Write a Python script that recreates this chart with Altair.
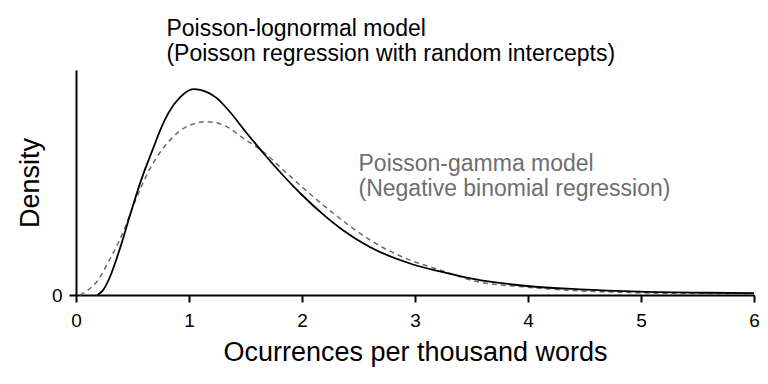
import altair as alt
import pandas as pd

# Poisson-lognormal (solid) density curve
logn_x = [0.19, 0.24, 0.30, 0.39, 0.48, 0.575, 0.684, 0.75, 0.817, 0.92, 1.04, 1.10,
          1.245, 1.363, 1.51, 1.688, 1.805, 1.982, 2.218, 2.366, 2.60, 2.956, 3.22,
          3.516, 3.99, 4.46, 4.99, 5.58, 6.0]
logn_y = [0.0, 0.013, 0.048, 0.125, 0.215, 0.305, 0.392, 0.443, 0.485, 0.527, 0.549, 0.547,
          0.525, 0.488, 0.432, 0.368, 0.328, 0.272, 0.207, 0.172, 0.128, 0.084, 0.063,
          0.043, 0.024, 0.015, 0.009, 0.006, 0.005]

# Poisson-gamma (dashed) density curve
gam_x = [0.035, 0.11, 0.2, 0.24, 0.286, 0.375, 0.434, 0.49, 0.58, 0.655, 0.743, 0.832,
         0.98, 1.157, 1.26, 1.333, 1.48, 1.658, 1.864, 2.1, 2.277, 2.60, 2.956, 3.22,
         3.516, 3.99, 4.46, 4.99, 5.5, 6.0]
gam_y = [0.0, 0.014, 0.042, 0.062, 0.088, 0.140, 0.180, 0.225, 0.290, 0.337, 0.380, 0.413,
         0.449, 0.462, 0.458, 0.449, 0.418, 0.382, 0.325, 0.262, 0.218, 0.147, 0.093, 0.067,
         0.038, 0.021, 0.011, 0.006, 0.0035, 0.002]

# Annotations (two lines each)
ann_text = ["Poisson-lognormal model\n(Poisson regression with random intercepts)",
            "Poisson-gamma model\n(Negative binomial regression)"]
ann_x = [0.8, 2.5]
ann_y = [0.691, 0.332]
ann_group = ["logn", "gamma"]

x_ticks = [0, 1, 2, 3, 4, 5, 6]

FONT = "Liberation Sans"

df_logn = pd.DataFrame({"x": logn_x, "y": logn_y})
df_gam = pd.DataFrame({"x": gam_x, "y": gam_y})
df_ann = pd.DataFrame({"x": ann_x, "y": ann_y, "text": ann_text, "g": ann_group})

xscale = alt.Scale(domain=[0, 6], nice=False, zero=False)
yscale = alt.Scale(domain=[0, 0.6], nice=False)

xaxis = alt.Axis(values=x_ticks, title="Ocurrences per thousand words", grid=False,
                 domainColor="black", domainWidth=2, tickColor="black", tickWidth=2,
                 tickSize=7, labelFontSize=19, labelFont=FONT, labelColor="black",
                 labelPadding=9, labelFlush=False, titleFont=FONT, titleFontSize=27,
                 titleFontWeight="normal", titleColor="black", titleBaseline="alphabetic",
                 titleY=65, titleX=339, titleAlign="center", format="d")
yaxis = alt.Axis(values=[0], title="Density", grid=False, domainColor="black", domainWidth=2,
                 tickColor="black", tickWidth=2, tickSize=7, labelFontSize=19, labelFont=FONT,
                 labelColor="black", labelPadding=7, titleFont=FONT, titleFontSize=27,
                 titleFontWeight="normal", titleColor="black", titleAngle=270,
                 titleBaseline="alphabetic", titleAlign="center", titleX=-38, titleY=112.5,
                 format="d")

gam_line = alt.Chart(df_gam).mark_line(color="#6a6a6a", strokeWidth=1.5, strokeDash=[5, 4],
                                       interpolate="monotone").encode(
    x=alt.X("x:Q", scale=xscale, axis=xaxis),
    y=alt.Y("y:Q", scale=yscale, axis=yaxis),
)
logn_line = alt.Chart(df_logn).mark_line(color="black", strokeWidth=1.8,
                                         interpolate="monotone").encode(
    x=alt.X("x:Q", scale=xscale),
    y=alt.Y("y:Q", scale=yscale),
)
labels = alt.Chart(df_ann).mark_text(align="left", baseline="alphabetic", font=FONT,
                                     fontSize=23, lineBreak="\n", lineHeight=25,
                                     clip=False).encode(
    x=alt.X("x:Q", scale=xscale),
    y=alt.Y("y:Q", scale=yscale),
    text="text:N",
    color=alt.Color("g:N", scale=alt.Scale(domain=["logn", "gamma"],
                                           range=["black", "#6e6e6e"]), legend=None),
)

chart = alt.layer(gam_line, logn_line, labels).properties(
    width=678, height=225,
    autosize=alt.AutoSizeParams(type="none"),
    padding={"left": 68, "top": 62, "right": 6, "bottom": 78},
    background="white",
).configure_view(stroke=None)

chart.save("out.html", embed_options={"renderer": "svg", "actions": False})
